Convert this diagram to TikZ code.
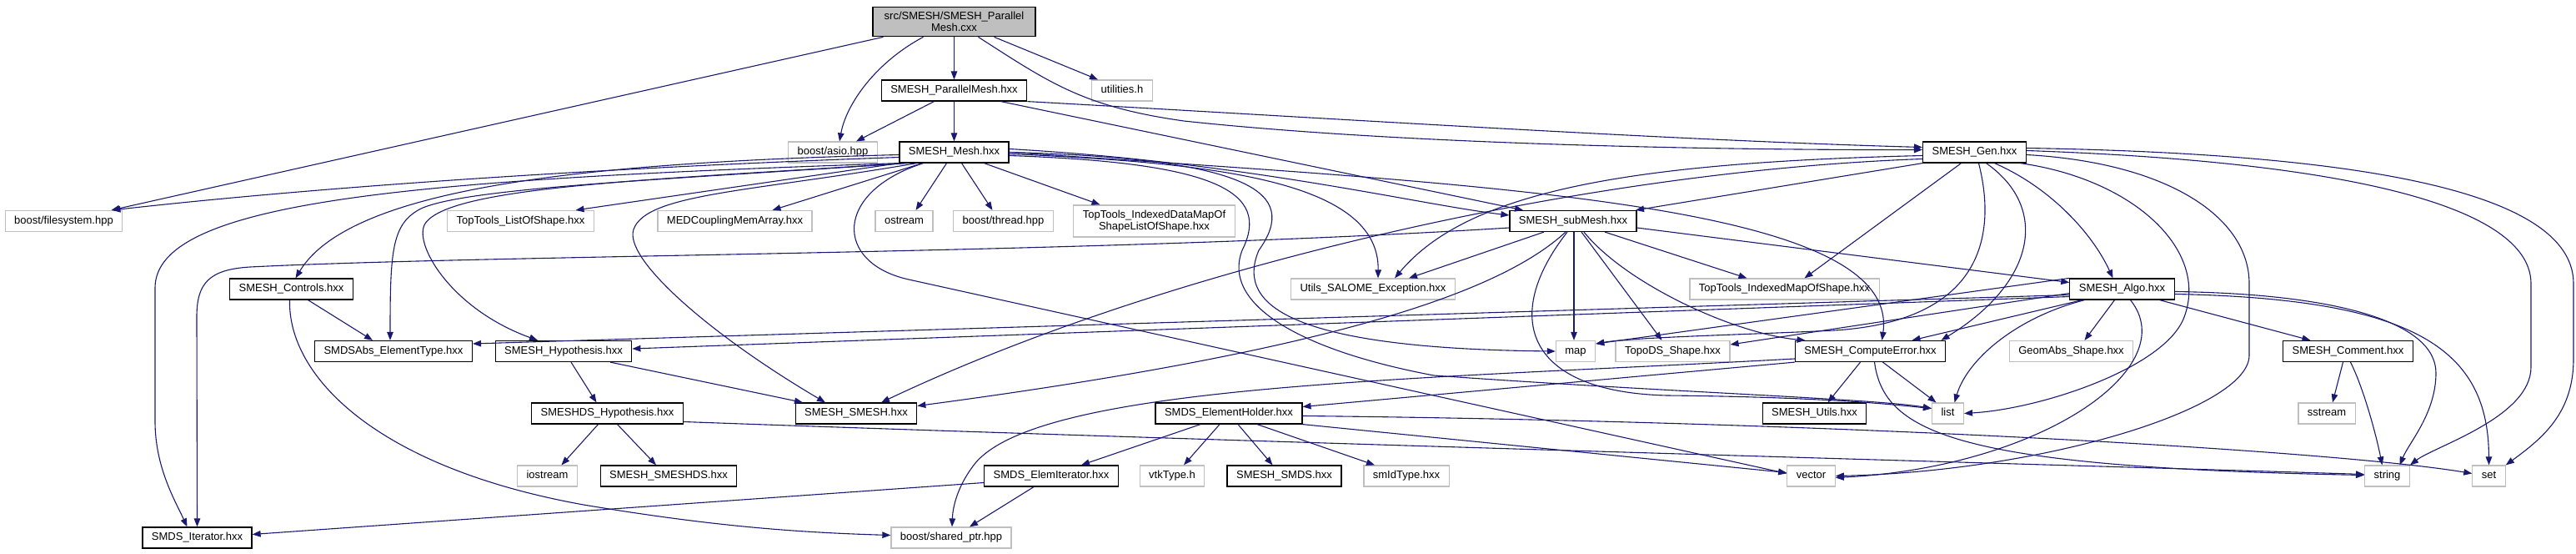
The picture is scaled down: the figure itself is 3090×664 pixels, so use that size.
\documentclass[tikz,border=0pt]{standalone}
\usepackage{fontspec}
\setmainfont{Liberation Sans}
\usetikzlibrary{arrows.meta}
\definecolor{edgeblue}{RGB}{25,25,112}
\definecolor{extgray}{RGB}{191,191,191}

\begin{document}
\begin{tikzpicture}[x=1pt,y=-1pt,
    box/.style={rectangle,line width=1.2pt,inner xsep=11pt,inner ysep=6pt,minimum height=25pt,
      font=\fontsize{13}{14}\selectfont,align=center},
    one/.style={text height=9.5pt,text depth=2.8pt},
    file/.style={box,one,draw=black},
    ext/.style={box,one,draw=extgray},
    dep/.style={edgeblue,line width=1.1pt,-{Triangle[length=10pt,width=7.5pt]}}]
  \useasboundingbox (0,0) rectangle (3090,664);
  \def\ya{26}\def\yb{108.5}\def\yc{182.5}\def\yd{265}\def\ye{346.5}
  \def\yf{421}\def\yg{495.5}\def\yh{570.5}\def\yi{644.5}
  % files
  \node[box,draw=black,fill=extgray,minimum width=195pt] (pmcxx) at (1144.5,\ya) {src/SMESH/SMESH\_Parallel\\Mesh.cxx};
  \node[file] (pmhxx) at (1144.5,\yb) {SMESH\_ParallelMesh.hxx};
  \node[ext] (util) at (1346,\yb) {utilities.h};
  \node[ext] (asio) at (999,\yc) {boost/asio.hpp};
  \node[file] (mesh) at (1144.5,\yc) {SMESH\_Mesh.hxx};
  \node[file] (gen) at (2368.5,\yc) {SMESH\_Gen.hxx};
  \node[ext] (fsys) at (76.5,\yd) {boost/filesystem.hpp};
  \node[ext] (tlos) at (624.5,\yd) {TopTools\_ListOfShape.hxx};
  \node[ext] (medc) at (881.5,\yd) {MEDCouplingMemArray.hxx};
  \node[ext] (ostr) at (1084.5,\yd) {ostream};
  \node[ext] (thrd) at (1203.5,\yd) {boost/thread.hpp};
  \node[box,draw=extgray] (tidm) at (1384.5,\yd) {TopTools\_IndexedDataMapOf\\ShapeListOfShape.hxx};
  \node[file] (subm) at (1887,\yd) {SMESH\_subMesh.hxx};
  \node[file] (ctrl) at (349.5,\ye) {SMESH\_Controls.hxx};
  \node[ext] (exc) at (1647,\ye) {Utils\_SALOME\_Exception.hxx};
  \node[ext] (tims) at (2140.5,\ye) {TopTools\_IndexedMapOfShape.hxx};
  \node[file] (algo) at (2545.5,\ye) {SMESH\_Algo.hxx};
  \node[file] (etyp) at (472,\yf) {SMDSAbs\_ElementType.hxx};
  \node[file] (hyp) at (676,\yf) {SMESH\_Hypothesis.hxx};
  \node[ext] (map) at (1890,\yf) {map};
  \node[ext] (tshp) at (2006.5,\yf) {TopoDS\_Shape.hxx};
  \node[file] (cerr) at (2243.5,\yf) {SMESH\_ComputeError.hxx};
  \node[ext] (geom) at (2484.5,\yf) {GeomAbs\_Shape.hxx};
  \node[file] (cmnt) at (2816.5,\yf) {SMESH\_Comment.hxx};
  \node[file] (dshyp) at (728.5,\yg) {SMESHDS\_Hypothesis.hxx};
  \node[file] (smsh) at (1027,\yg) {SMESH\_SMESH.hxx};
  \node[file] (ehld) at (1474,\yg) {SMDS\_ElementHolder.hxx};
  \node[file] (utls) at (2176.5,\yg) {SMESH\_Utils.hxx};
  \node[ext] (list) at (2336.5,\yg) {list};
  \node[ext] (sstr) at (2791,\yg) {sstream};
  \node[ext] (iost) at (656.5,\yh) {iostream};
  \node[file] (smds) at (802,\yh) {SMESH\_SMESHDS.hxx};
  \node[file] (eitr) at (1261,\yh) {SMDS\_ElemIterator.hxx};
  \node[ext] (vtk) at (1406,\yh) {vtkType.h};
  \node[file] (ssmds) at (1540.5,\yh) {SMESH\_SMDS.hxx};
  \node[ext] (smid) at (1687,\yh) {smIdType.hxx};
  \node[ext] (vect) at (2172.5,\yh) {vector};
  \node[ext] (str) at (2863.5,\yh) {string};
  \node[ext] (set) at (2985.5,\yh) {set};
  \node[file] (iter) at (236.5,\yi) {SMDS\_Iterator.hxx};
  \node[ext] (shp) at (1141,\yi) {boost/shared\_ptr.hpp};
  % src/SMESH/SMESH_ParallelMesh.cxx
  \draw[dep] ([xshift=-85pt]pmcxx.south) -- ([xshift=57pt]fsys.north);
  \draw[dep] ([xshift=-37pt]pmcxx.south) .. controls (1050,75) and (1015,125) .. ([xshift=8pt]asio.north);
  \draw[dep] (pmcxx) -- (pmhxx);
  \draw[dep] ([xshift=48pt]pmcxx.south) -- ([xshift=-29pt]util.north);
  \draw[dep] ([xshift=29pt]pmcxx.south) .. controls (1260,100) and (1300,128) .. (1420,145)
    .. controls (1700,175) and (2100,180) .. ([yshift=3pt]gen.west);
  % SMESH_ParallelMesh.hxx
  \draw[dep] ([xshift=-24pt]pmhxx.south) -- ([xshift=28pt]asio.north);
  \draw[dep] (pmhxx) -- (mesh);
  \draw[dep] (pmhxx.south east) .. controls (1600,142) and (2000,168) .. ([yshift=6pt]gen.west);
  \draw[dep] ([xshift=56pt]pmhxx.south) -- ([xshift=-60pt]subm.north);
  % SMESH_Mesh.hxx
  \draw[dep] ([yshift=-6pt]mesh.west) .. controls (750,200) and (400,222) .. ([xshift=58pt]fsys.north);
  \draw[dep] (mesh.south west) .. controls (500,215) and (186,240) .. (186,345) -- (186,505)
    .. controls (186,560) and (210,600) .. ([xshift=-12pt]iter.north);
  \draw[dep] ([yshift=-3pt]mesh.west) .. controls (700,195) and (420,225) .. ([xshift=5pt]ctrl.north);
  \draw[dep] ([xshift=-55pt]mesh.south) .. controls (800,215) and (560,225) .. (505,250)
    .. controls (470,268) and (468,300) .. ([xshift=-4pt]etyp.north);
  \draw[dep] ([xshift=-60pt]mesh.south) .. controls (800,215) and (540,222) .. (510,268)
    .. controls (495,291) and (540,370) .. ([xshift=-31pt]hyp.north);
  \draw[dep] (mesh.south west) -- ([xshift=66pt]tlos.north);
  \draw[dep] ([xshift=-38pt]mesh.south) -- ([xshift=45pt]medc.north);
  \draw[dep] ([xshift=-9pt]mesh.south) -- ([xshift=14pt]ostr.north);
  \draw[dep] ([xshift=9pt]mesh.south) -- ([xshift=-13pt]thrd.north);
  \draw[dep] ([xshift=36pt]mesh.south) -- ([xshift=-65pt]tidm.north);
  \draw[dep] ([yshift=4pt]mesh.east) .. controls (1500,195) and (1700,245) .. ([yshift=7pt]subm.west);
  \draw[dep] ([yshift=-2pt]mesh.east) .. controls (1450,195) and (1655,215) .. ([xshift=6pt]exc.north);
  \draw[dep] (mesh.east) .. controls (1500,190) and (1560,230) .. (1510,300)
    .. controls (1480,370) and (1560,418) .. (map.west);
  \draw[dep] ([yshift=-4pt]mesh.east) .. controls (1460,195) and (1525,230) .. (1490,300)
    .. controls (1465,365) and (1560,420) .. (1720,450)
    .. controls (2000,470) and (2250,478) .. ([yshift=6pt]list.west);
  \draw[dep] ([xshift=-45pt]mesh.south) .. controls (900,230) and (775,232) .. (760,275)
    .. controls (748,310) and (850,400) .. ([xshift=-37pt]smsh.north);
  \draw[dep] (mesh.east) .. controls (1800,222) and (2280,245) .. ([xshift=14pt]cerr.north);
  \draw[dep] ([xshift=-37pt]mesh.south) .. controls (1000,230) and (1000,315) .. (1090,335)
    -- ([yshift=3pt]vect.west);
  % SMESH_Gen.hxx
  \draw[dep] (gen.south west) -- ([xshift=75pt]subm.north);
  \draw[dep] ([yshift=-4pt]gen.west) .. controls (1950,195) and (1760,230) .. ([xshift=26pt]exc.north);
  \draw[dep] ([yshift=-8pt]gen.west) .. controls (1900,205) and (1400,320) .. ([xshift=30pt]smsh.north);
  \draw[dep] ([xshift=-16pt]gen.south) -- ([xshift=24pt]tims.north);
  \draw[dep] ([xshift=14pt]gen.south) .. controls (2460,250) and (2440,340) .. ([xshift=85pt]cerr.north);
  \draw[dep] ([xshift=24pt]gen.south) .. controls (2460,225) and (2510,280) .. ([xshift=-11pt]algo.north);
  \draw[dep] ([xshift=5pt]gen.south) .. controls (2395,280) and (2380,385) .. (2200,396)
    .. controls (2100,401) and (1960,404) .. ([yshift=9pt]map.east);
  \draw[dep] ([xshift=55pt]gen.south) .. controls (2560,215) and (2650,300) .. (2620,380)
    .. controls (2598,440) and (2450,490) .. (list.east);
  \draw[dep] ([yshift=-3pt]gen.east) .. controls (2600,195) and (2698,260) .. (2698,340) -- (2698,426)
    .. controls (2698,490) and (2450,565) .. (vect.east);
  \draw[dep] ([yshift=2pt]gen.east) .. controls (2850,195) and (3036,255) .. (3036,340) -- (3036,440)
    .. controls (3036,500) and (2920,535) .. (str.north east);
  \draw[dep] ([yshift=5pt]gen.east) .. controls (2880,185) and (3087,240) .. (3087,340) -- (3087,430)
    .. controls (3087,495) and (3050,525) .. (set.north east);
  % SMESH_subMesh.hxx
  \draw[dep] ([yshift=-8pt]subm.west) .. controls (1300,305) and (600,305) .. (300,320)
    .. controls (250,323) and (236,340) .. (236,380) -- (iter.north);
  \draw[dep] ([xshift=-35pt]subm.south) -- ([xshift=43pt]exc.north);
  \draw[dep] ([xshift=-9pt]subm.south) .. controls (1800,350) and (1600,420) .. ([yshift=9pt]smsh.east);
  \draw[dep] ([xshift=-7pt]subm.south) .. controls (1800,380) and (1830,470) .. (2000,474)
    .. controls (2200,476) and (2280,486) .. ([yshift=6pt]list.west);
  \draw[dep] ([xshift=1pt]subm.south) -- ([xshift=-2pt]map.north);
  \draw[dep] ([xshift=10pt]subm.south) -- ([xshift=-13pt]tshp.north);
  \draw[dep] ([xshift=13pt]subm.south) .. controls (1950,340) and (2080,400) .. ([xshift=-78pt]cerr.north);
  \draw[dep] ([xshift=38pt]subm.south) -- ([xshift=-45pt]tims.north);
  \draw[dep] ([yshift=-8pt]subm.east) -- ([yshift=8pt]algo.west);
  % SMESH_Algo.hxx
  \draw[dep] ([yshift=-7pt]algo.west) -- ([yshift=9pt]etyp.east);
  \draw[dep] ([yshift=-9pt]algo.west) -- ([yshift=3pt]hyp.east);
  \draw[dep] ([yshift=-5pt]algo.west) -- ([yshift=8pt]tshp.east);
  \draw[dep] (algo.north west) -- ([yshift=9pt]map.east);
  \draw[dep] ([xshift=-48pt]algo.south) -- ([xshift=50pt]cerr.north);
  \draw[dep] ([xshift=-9pt]algo.south) -- ([xshift=16pt]geom.north);
  \draw[dep] ([xshift=-45pt]algo.south) .. controls (2420,380) and (2360,430) .. ([xshift=8pt]list.north);
  \draw[dep] ([xshift=10pt]algo.south) .. controls (2620,440) and (2450,560) .. ([yshift=-2pt]vect.east);
  \draw[dep] ([xshift=45pt]algo.south) -- ([xshift=-45pt]cmnt.north);
  \draw[dep] ([yshift=-3pt]algo.east) .. controls (2800,352) and (2922,385) .. (2922,447)
    .. controls (2922,495) and (2890,530) .. ([xshift=15pt]str.north);
  \draw[dep] ([yshift=-6pt]algo.east) .. controls (2900,358) and (2985,420) .. (set.north);
  % SMESH_ComputeError.hxx
  \draw[dep] (cerr.south west) -- ([yshift=8pt]ehld.east);
  \draw[dep] ([xshift=-12pt]cerr.south) -- ([xshift=16pt]utls.north);
  \draw[dep] ([xshift=15pt]cerr.south) -- ([xshift=-14pt]list.north);
  \draw[dep] ([xshift=5pt]cerr.south) .. controls (2260,520) and (2350,560) .. ([yshift=1pt]str.west);
  \draw[dep] ([yshift=-9pt]cerr.west) .. controls (1700,455) and (1250,460) .. (1170,555)
    .. controls (1150,580) and (1143,605) .. ([xshift=1pt]shp.north);
  % SMDS_ElementHolder.hxx
  \draw[dep] ([xshift=-34pt]ehld.south) -- ([xshift=36pt]eitr.north);
  \draw[dep] ([xshift=-11pt]ehld.south) -- ([xshift=14pt]vtk.north);
  \draw[dep] ([xshift=11pt]ehld.south) -- ([xshift=-14pt]ssmds.north);
  \draw[dep] ([xshift=34pt]ehld.south) -- ([xshift=-38pt]smid.north);
  \draw[dep] (ehld.south east) -- ([yshift=4pt]vect.west);
  \draw[dep] ([yshift=-3pt]ehld.east) .. controls (2200,505) and (2800,540) .. ([yshift=3pt]set.west);
  % the rest
  \draw[dep] ([yshift=-8pt]eitr.west) -- ([yshift=4pt]iter.east);
  \draw[dep] ([xshift=-21pt]eitr.south) -- ([xshift=22pt]shp.north);
  \draw[dep] ([xshift=20pt]ctrl.south) -- ([xshift=-25pt]etyp.north);
  \draw[dep] ([xshift=-2pt]ctrl.south) .. controls (345,450) and (450,560) .. (700,605)
    .. controls (850,630) and (950,638) .. ([yshift=3pt]shp.west);
  \draw[dep] ([xshift=9pt]hyp.south) -- ([xshift=-13pt]dshyp.north);
  \draw[dep] ([xshift=56pt]hyp.south) -- ([xshift=-64pt]smsh.north);
  \draw[dep] ([xshift=-11pt]dshyp.south) -- ([xshift=17pt]iost.north);
  \draw[dep] ([xshift=12pt]dshyp.south) -- ([xshift=-15pt]smds.north);
  \draw[dep] ([yshift=-10pt]dshyp.east) .. controls (1500,530) and (2500,558) .. ([yshift=2pt]str.west);
  \draw[dep] ([xshift=-6pt]cmnt.south) -- ([xshift=7pt]sstr.north);
  \draw[dep] ([xshift=3pt]cmnt.south) .. controls (2835,465) and (2850,520) .. ([xshift=-6pt]str.north);
\end{tikzpicture}
\end{document}
